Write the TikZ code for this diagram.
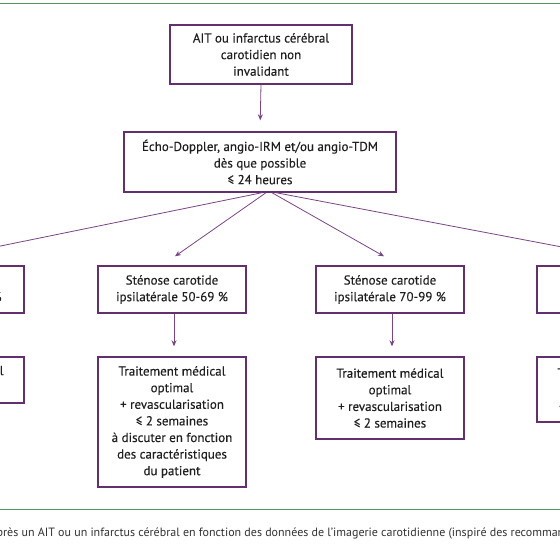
\documentclass[tikz,border=0pt]{standalone}
\usepackage{fontspec}
\setmainfont{PT Sans}
\newfontfamily\boxfont[FakeBold=0.2]{PT Sans}
\usetikzlibrary{arrows.meta}
\definecolor{boxpurple}{RGB}{98,48,108}
\definecolor{linepurple}{RGB}{120,70,130}
\definecolor{framegreen}{RGB}{88,150,98}
\definecolor{captiongray}{RGB}{50,50,50}
\tikzset{
  box/.style={draw=boxpurple, line width=1.4pt, minimum width=148pt, align=center,
    font=\boxfont\fontsize{13}{16.6}\selectfont, text=black!88, inner sep=0pt},
  arr/.style={draw=linepurple, line width=0.8pt, -{Stealth[length=6pt,width=5pt]}},
  rule/.style={draw=framegreen, line width=1.2pt},
}
\begin{document}
\begin{tikzpicture}[x=1pt,y=-1pt]
\useasboundingbox (0,0) rectangle (560,560);
\clip (0,0) rectangle (560,560);
\fill[white] (0,0) rectangle (560,560);
\draw[rule] (-5,3.5) -- (565,3.5);
\draw[rule] (-5,509.5) -- (565,509.5);

\node[box, minimum width=182pt, minimum height=59pt] (top) at (261,54.5)
  {AIT ou infarctus cérébral\\carotidien non\\invalidant};
\node[box, minimum width=272pt, minimum height=60pt] (echo) at (260,162)
  {Écho-Doppler, angio-IRM et/ou angio-TDM\\dès que possible\\≤ 24 heures};

\node[box, minimum height=47pt] (s0) at (-50,289.5) {Sténose carotide\\ipsilatérale < 50 \%};
\node[box, minimum height=47pt] (s1) at (172,289.5) {Sténose carotide\\ipsilatérale 50-69 \%};
\node[box, minimum height=47pt] (s2) at (390,289.5) {Sténose carotide\\ipsilatérale 70-99 \%};
\node[box, minimum height=47pt] (s3) at (611,289.5) {Sténose carotide\\ipsilatérale 100 \%};

\node[box, minimum height=46pt] (t0) at (-50,380) {Traitement médical\\optimal};
\node[box, minimum height=130pt] (t1) at (172,422)
  {Traitement médical\\optimal\\+ revascularisation\\≤ 2 semaines\\à discuter en fonction\\des caractéristiques\\du patient};
\node[box, minimum height=82pt] (t2) at (390,398)
  {Traitement médical\\optimal\\+ revascularisation\\≤ 2 semaines};
\node[box, minimum height=65pt] (t3) at (611,389.5)
  {Traitement médical\\optimal\\+ revascularisation};

\draw[arr, shorten >=11pt] (top.south) -- (echo.north);
\draw[arr] ([xshift=2pt]echo.south) -- ([yshift=9pt]s0.north);
\draw[arr] ([xshift=6pt]echo.south) -- ([xshift=3pt,yshift=9pt]s1.north);
\draw[arr] ([xshift=12pt]echo.south) -- ([xshift=-6pt,yshift=9pt]s2.north);
\draw[arr] ([xshift=16pt]echo.south) -- ([yshift=9pt]s3.north);
\foreach \a/\b in {s0/t0,s1/t1,s2/t2,s3/t3}
  \draw[arr, shorten >=10pt] ([xshift=2pt]\a.south) -- ([xshift=2pt]\b.north);

\node[anchor=west, inner sep=0pt, text=captiongray, font=\fontsize{12}{14}\selectfont] (cap) at (-9.5,533)
  {après un AIT ou un infarctus cérébral en fonction des données de l’imagerie carotidienne (inspiré des recommandations)};
\end{tikzpicture}
\end{document}
